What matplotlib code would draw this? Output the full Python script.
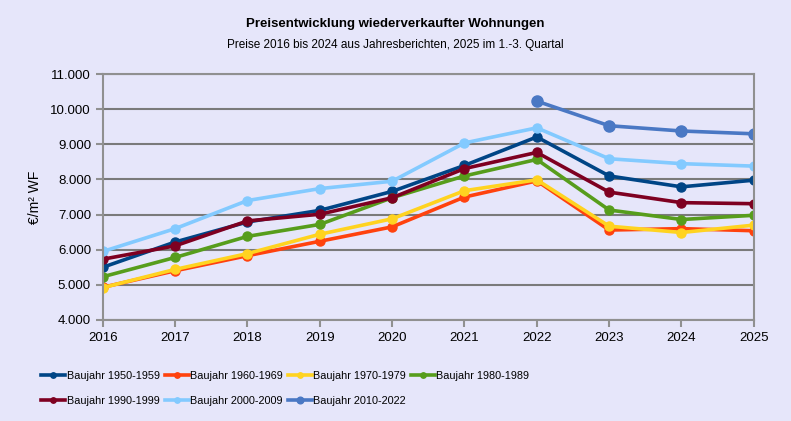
import matplotlib.pyplot as plt
from matplotlib.ticker import FuncFormatter

# Data
years = [2016, 2017, 2018, 2019, 2020, 2021, 2022, 2023, 2024, 2025]
bj_1950 = [5500, 6220, 6790, 7120, 7660, 8400, 9210, 8100, 7790, 7980]
bj_1960 = [4930, 5400, 5830, 6240, 6650, 7500, 7960, 6560, 6600, 6540]
bj_1970 = [4920, 5440, 5890, 6440, 6880, 7680, 7990, 6670, 6490, 6700]
bj_1980 = [5230, 5780, 6380, 6720, 7480, 8100, 8570, 7130, 6860, 6980]
bj_1990 = [5730, 6110, 6820, 7010, 7480, 8310, 8770, 7640, 7340, 7310]
bj_2000 = [5950, 6600, 7400, 7740, 7950, 9040, 9470, 8590, 8450, 8380]
years_2010 = [2022, 2023, 2024, 2025]
bj_2010 = [10230, 9530, 9380, 9300]

bg = '#e6e6fa'
plt.rcParams['font.family'] = ['Liberation Sans', 'DejaVu Sans']

fig = plt.figure(figsize=(7.91, 4.21), dpi=100, facecolor=bg)
ax = fig.add_axes([0.130, 0.240, 0.823, 0.584], facecolor=bg)

series = [
    ('Baujahr 1950-1959', years, bj_1950, '#004586', 6.5),
    ('Baujahr 1960-1969', years, bj_1960, '#ff420e', 6.5),
    ('Baujahr 1970-1979', years, bj_1970, '#ffd320', 6.5),
    ('Baujahr 1980-1989', years, bj_1980, '#579d1c', 6.5),
    ('Baujahr 1990-1999', years, bj_1990, '#7e0021', 6.5),
    ('Baujahr 2000-2009', years, bj_2000, '#83caff', 6.5),
    ('Baujahr 2010-2022', years_2010, bj_2010, '#4a78c4', 8),
]
handles = []
for label, x, y, c, ms in series:
    h, = ax.plot(x, y, color=c, lw=2.6, marker='o', ms=ms, label=label)
    handles.append(h)

ax.set_xlim(2016, 2025)
ax.set_ylim(4000, 11000)
ax.set_xticks(years)
ax.set_yticks(range(4000, 11001, 1000))
ax.yaxis.set_major_formatter(FuncFormatter(lambda v, p: f'{int(v):,}'.replace(',', '.')))
ax.grid(axis='y', color='#7a7a7a', lw=1.5)
ax.set_axisbelow(True)
for s in ax.spines.values():
    s.set_color('#909090')
    s.set_linewidth(1.5)
ax.tick_params(colors='#909090', labelcolor='black', labelsize=9.5, length=5, width=1.5)
ax.set_ylabel('€/m² WF', fontsize=10, labelpad=6)

fig.text(0.5, 0.937, 'Preisentwicklung wiederverkaufter Wohnungen',
         ha='center', fontsize=9.5, fontweight='bold')
fig.text(0.5, 0.887, 'Preise 2016 bis 2024 aus Jahresberichten, 2025 im 1.-3. Quartal',
         ha='center', fontsize=8.5)

# row-wise legend order
order = [0, 4, 1, 5, 2, 6, 3]
fig.legend([handles[i] for i in order], [series[i][0] for i in order],
           loc='lower left', bbox_to_anchor=(0.04, 0.012), ncol=4, frameon=False,
           fontsize=7.8, handlelength=2.2, handletextpad=0.15, columnspacing=0.45,
           markerscale=0.6, labelspacing=1.4)

plt.savefig('out.png', dpi=100, facecolor=bg)
